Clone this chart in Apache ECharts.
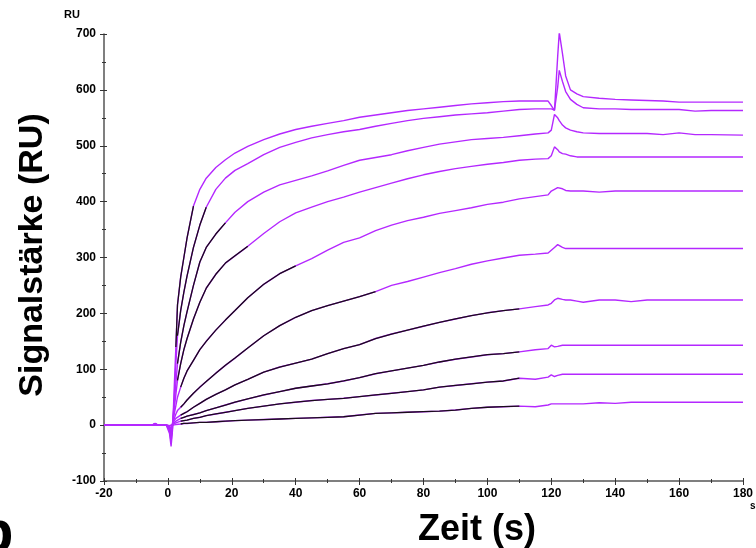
<!DOCTYPE html>
<html><head><meta charset="utf-8">
<script src="https://cdn.jsdelivr.net/npm/echarts@6/dist/echarts.min.js"></script>
<style>html,body{margin:0;padding:0;background:#fff}#c{width:756px;height:548px}</style>
</head><body><div id="c"></div><script>
// time grid (s)
const times = [-20, -5, -4, -3, -0.5, 0.5, 1, 1.5, 2, 2.5, 3, 4, 5, 6, 8, 10, 12, 15, 18, 21, 25, 30, 35, 40, 45, 50, 55, 60, 65, 70, 75, 80, 85, 90, 95, 100, 105, 110, 115, 119, 120, 121, 122, 122.5, 123.5, 124.5, 126, 128, 130, 135, 140, 145, 150, 155, 160, 165, 170, 180];

// sensorgrams (RU)
const curve1 = [0, 0, 3, 0, 0, -15, -38, -5, 70, 140, 215, 265, 300, 335, 392, 422, 442, 461, 475, 487, 499, 511, 521, 529, 535, 540, 545, 551, 555, 559, 563, 566, 569, 572, 575, 577, 579, 580, 580, 580, 572, 563, 660, 703, 665, 625, 600, 593, 588, 585, 583, 582, 581, 580, 578, 578, 578, 578];
const curve2 = [0, 0, 2, 0, 0, -10, -30, 0, 50, 110, 160, 205, 238, 267, 318, 358, 390, 422, 442, 456, 468, 484, 497, 506, 514, 520, 525, 529, 535, 540, 545, 549, 552, 555, 557, 559, 562, 565, 566, 566, 566, 564, 605, 635, 615, 597, 583, 574, 568, 566, 566, 565, 565, 565, 565, 562, 563, 563];
const curve3 = [0, 0, 2, 0, 0, -5, -25, 5, 40, 75, 110, 148, 178, 203, 250, 292, 318, 342, 362, 381, 400, 417, 430, 438, 446, 455, 465, 474, 479, 484, 491, 497, 503, 507, 511, 513, 515, 518, 521, 523, 528, 556, 550, 545, 537, 532, 528, 525, 523, 522, 522, 522, 522, 520, 523, 520, 520, 519];
const curve4 = [0, 0, 2, 0, 0, -5, -20, 5, 30, 55, 80, 110, 135, 155, 190, 220, 245, 270, 290, 303, 320, 343, 364, 380, 390, 400, 408, 417, 425, 433, 441, 448, 454, 459, 463, 467, 470, 474, 476, 477, 482, 498, 493, 489, 486, 485, 482, 480, 480, 480, 480, 480, 480, 480, 480, 480, 480, 480];
const curve5 = [0, 0, 2, 0, 0, -5, -15, 5, 20, 35, 50, 68, 84, 97, 116, 135, 150, 170, 188, 205, 228, 252, 271, 285, 298, 313, 327, 335, 348, 358, 366, 372, 379, 384, 389, 395, 399, 405, 409, 412, 419, 422, 425, 425, 423, 420, 419, 419, 419, 417, 419, 419, 419, 419, 419, 419, 419, 419];
const curve6 = [0, 0, 1, 0, 0, -3, -12, 3, 12, 20, 26, 32, 38, 45, 57, 68, 78, 93, 107, 120, 138, 160, 178, 193, 205, 214, 222, 230, 239, 250, 257, 265, 273, 280, 288, 294, 299, 304, 306, 308, 313, 318, 323, 322, 318, 316, 316, 316, 316, 316, 316, 316, 316, 316, 316, 316, 316, 316];
const curve7 = [0, 0, 1, 0, 0, -2, -8, 2, 8, 12, 15, 18, 21, 24, 32, 39, 46, 55, 63, 72, 82, 95, 104, 111, 118, 128, 137, 144, 155, 163, 170, 177, 184, 190, 196, 201, 205, 208, 212, 215, 218, 224, 227, 227, 225, 224, 224, 222, 220, 224, 224, 221, 224, 224, 224, 224, 224, 224];
const curve8 = [0, 0, 1, 0, 0, -2, -6, 2, 5, 7, 9, 12, 14, 16, 19, 22, 26, 31, 36, 41, 47, 54, 60, 66, 70, 74, 79, 85, 92, 97, 102, 107, 113, 118, 122, 126, 128, 131, 135, 137, 143, 140, 141, 143, 143, 143, 143, 143, 143, 143, 143, 143, 143, 143, 143, 143, 143, 143];
const curve9 = [0, 0, 1, 0, 0, -1, -4, 1, 3, 4, 5, 7, 8, 9, 12, 14, 17, 20, 23, 26, 30, 34, 38, 41, 44, 46, 48, 51, 54, 57, 60, 63, 68, 71, 74, 77, 79, 84, 82, 86, 90, 87, 89, 92, 91, 91, 91, 91, 91, 91, 91, 91, 91, 91, 91, 91, 91, 91];
const curve10 = [0, 0, 0, 0, 0, -1, -2, 0, 1, 1, 2, 2, 3, 3, 4, 5, 5, 6, 7, 8, 9, 10, 11, 12, 13, 14, 15, 18, 21, 22, 23, 24, 25, 27, 30, 32, 33, 34, 33, 36, 38, 38, 38, 38, 38, 38, 38, 38, 38, 40, 39, 41, 41, 41, 41, 41, 41, 41];

// fitted association window (s) for each curve
const fitFrom = [2.5, 3, 3, 3, 4, 4, 4, 4, 4, 4];
const fitTo = [8, 12, 18, 25, 40, 65, 110, 110, 110, 110];

// axes
const xMin = -20, xMax = 180, xStep = 20;
const yMin = -100, yMax = 700, yStep = 100;

const curves = [curve1, curve2, curve3, curve4, curve5, curve6, curve7, curve8, curve9, curve10];
const PURPLE = '#b428ff';
const FIT = '#1a0c1a';
const FONT = 'Liberation Sans, Arial, Helvetica, sans-serif';

const series = [];
curves.forEach((c, i) => {
  series.push({
    type: 'line', xAxisIndex: 0, yAxisIndex: 0,
    data: times.map((t, j) => [t, c[j]]),
    showSymbol: false, symbol: 'none', smooth: false, z: 2,
    lineStyle: { color: PURPLE, width: 1.4 }, silent: true
  });
});
curves.forEach((c, i) => {
  series.push({
    type: 'line', xAxisIndex: 0, yAxisIndex: 0,
    data: times.map((t, j) => [t, c[j]]).filter(p => p[0] >= fitFrom[i] && p[0] <= fitTo[i]),
    showSymbol: false, symbol: 'none', z: 3,
    lineStyle: { color: FIT, width: 1.3 }, silent: true
  });
});

const labelStyle = { color: '#000', fontWeight: 'bold', fontSize: 12, fontFamily: FONT };
function axisPair(kind, min, max, step, margin) {
  const base = {
    type: 'value', min: min, max: max, interval: step, gridIndex: 0,
    splitLine: { show: false }, minorSplitLine: { show: false }
  };
  const a = Object.assign({}, base, {
    axisLine: { show: true, onZero: false, lineStyle: { color: '#555', width: 1.5 } },
    axisTick: { show: true, inside: false, length: 4, lineStyle: { color: '#333', width: 1 } },
    minorTick: { show: true, splitNumber: 2, length: 2, lineStyle: { color: '#333', width: 1 } },
    axisLabel: Object.assign({ margin: margin }, labelStyle)
  });
  const b = Object.assign({}, base, {
    axisLine: { show: false, onZero: false },
    axisTick: { show: true, inside: true, length: 3, lineStyle: { color: '#333', width: 1 } },
    minorTick: { show: true, splitNumber: 2, length: 2, lineStyle: { color: '#333', width: 1 } },
    axisLabel: { show: false }
  });
  if (kind === 'x') { a.position = 'bottom'; b.position = 'bottom'; }
  else { a.position = 'left'; b.position = 'left'; }
  return [a, b];
}

const chart = echarts.init(document.getElementById('c'), null, { renderer: 'canvas' });
chart.setOption({
  animation: false,
  backgroundColor: '#fff',
  grid: { left: 104, right: 11, top: 34, bottom: 67, containLabel: false },
  xAxis: axisPair('x', xMin, xMax, xStep, 7),
  yAxis: axisPair('y', yMin, yMax, yStep, 8),
  series: series,
  graphic: [
    { type: 'text', left: 64, top: 9, style: { text: 'RU', fontSize: 11, fontWeight: 'bold', fontFamily: FONT, fill: '#000' } },
    { type: 'text', x: 477, y: 530, style: { text: 'Zeit (s)', fontSize: 36, fontWeight: 'bold', fontFamily: FONT, fill: '#000', align: 'center', verticalAlign: 'middle' } },
    { type: 'text', x: 33, y: 255, rotation: Math.PI / 2, style: { text: 'Signalstärke (RU)', fontSize: 34, fontWeight: 'bold', fontFamily: FONT, fill: '#000', align: 'center', verticalAlign: 'middle' } },
    { type: 'text', x: 750, y: 506, style: { text: 's', fontSize: 10, fontWeight: 'bold', fontFamily: FONT, fill: '#000', align: 'left', verticalAlign: 'middle' } },
    { type: 'text', x: -22, y: 535, style: { text: 'b', fontSize: 58, fontWeight: 'bold', fontFamily: FONT, fill: '#000', align: 'left', verticalAlign: 'middle' } }
  ]
});
</script></body></html>
